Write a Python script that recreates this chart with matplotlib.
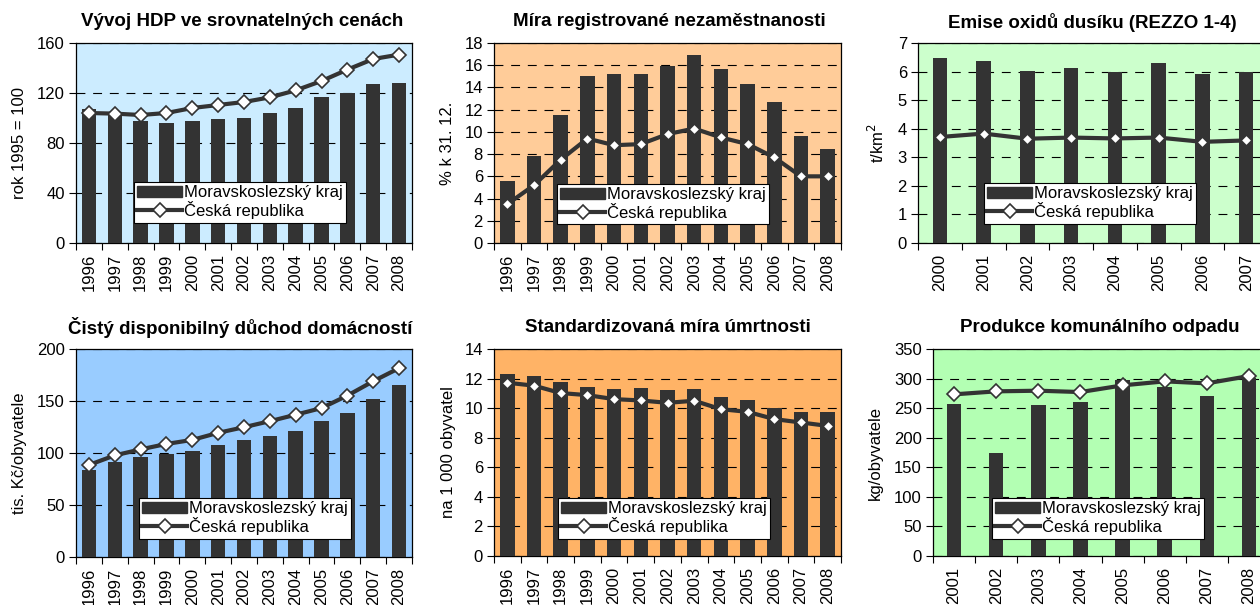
import matplotlib
matplotlib.use("Agg")
import matplotlib.pyplot as plt
from matplotlib.lines import Line2D
from matplotlib.patches import Patch
import numpy as np

W, H = 1260, 605
plt.rcParams["font.family"] = ["Liberation Sans", "DejaVu Sans"]

DARK = "#333333"

# ── data ─────────────────────────────────────────────────────────────────────
years_all   = [str(y) for y in range(1996, 2009)]
years_emise = [str(y) for y in range(2000, 2008)]
years_odpad = [str(y) for y in range(2001, 2009)]

hdp_msk = [107, 104, 98, 95.7, 97.3, 98.9, 99.7, 103.7, 107.7, 116.5, 120.3, 126.9, 127.7]
hdp_cr  = [104, 103.5, 102.4, 104, 108, 110.4, 112.8, 116.5, 122.1, 129.6, 138.7, 147.2, 150.7]

nezam_msk = [5.6, 7.8, 11.5, 15.0, 15.2, 15.2, 15.9, 16.9, 15.7, 14.3, 12.7, 9.6, 8.5]
nezam_cr  = [3.5, 5.2, 7.5, 9.4, 8.8, 8.9, 9.8, 10.3, 9.5, 8.9, 7.7, 6.0, 6.0]

emise_msk = [6.48, 6.36, 6.01, 6.11, 5.99, 6.30, 5.90, 5.99]
emise_cr  = [3.71, 3.83, 3.65, 3.69, 3.66, 3.69, 3.54, 3.59]

duchod_msk = [84, 91.6, 96.5, 99, 102.3, 108.1, 112.9, 116.8, 121.6, 130.3, 138.4, 151.6, 165.2]
duchod_cr  = [88.5, 97.7, 103.5, 108.7, 112.6, 119.4, 124.8, 130.6, 136.8, 143.2, 155.2, 169.0, 181.6]

umrt_msk = [12.3, 12.17, 11.76, 11.42, 11.29, 11.36, 11.22, 11.29, 10.75, 10.54, 10.0, 9.73, 9.73]
umrt_cr  = [11.72, 11.52, 11.02, 10.88, 10.61, 10.52, 10.36, 10.5, 9.93, 9.75, 9.26, 9.03, 8.8]

odpad_msk = [257, 174, 255, 260, 297.5, 285.7, 270.5, 300.4]
odpad_cr  = [273.3, 278.4, 279.5, 277.2, 288.5, 295.3, 291.9, 304.3]

LABELS = ["Moravskoslezský kraj", "Česká republika"]
BAR_PX = 14.5  # bars are ~14 px wide in every panel

fig = plt.figure(figsize=(W / 100, H / 100), dpi=100)
fig.patch.set_facecolor("white")


def panel(box, years, msk, cr, ymax, ystep, bg, title, title_xy,
          ylabel, ylabel_x, legend_xy, big_marker):
    left, right, top, bottom = box
    ax = fig.add_axes([left / W, 1 - bottom / H, (right - left) / W, (bottom - top) / H])
    ax.set_facecolor(bg)
    x = np.arange(len(years))
    cat_px = (right - left) / len(years)
    ax.bar(x, msk, width=BAR_PX / cat_px, color=DARK, zorder=3)
    if big_marker:
        ms, mec = 7, DARK
    else:
        ms, mec = 3.2, "white"
    ax.plot(x, cr, color=DARK, lw=3, marker="D", ms=ms, mfc="white",
            mec=mec, mew=1.2, zorder=4)

    ax.set_xlim(-0.5, len(years) - 0.5)
    ax.set_ylim(0, ymax)
    ax.set_yticks(np.arange(0, ymax + ystep / 2, ystep))
    ax.tick_params(axis="y", direction="out", length=5, width=0.8, labelsize=12, pad=3)

    ax.set_xticks(x)
    ax.set_xticklabels(years, rotation=90, fontsize=12)
    ax.set_xticks(np.arange(len(years) + 1) - 0.5, minor=True)
    ax.tick_params(axis="x", which="major", length=0, pad=8)
    ax.tick_params(axis="x", which="minor", direction="out", length=5, width=0.8)

    ax.grid(axis="y", color="black", lw=0.8, linestyle=(0, (8, 7)), zorder=0)
    ax.set_axisbelow(True)
    for s in ax.spines.values():
        s.set_color("black")
        s.set_linewidth(0.9)

    fig.text(title_xy[0] / W, 1 - title_xy[1] / H, title, ha="center", va="center",
             fontsize=13.5, fontweight="bold")
    fig.text(ylabel_x / W, 1 - (top + bottom) / 2 / H, ylabel, ha="center", va="center",
             rotation=90, fontsize=12)

    handles = [Patch(facecolor=DARK, edgecolor=DARK),
               Line2D([], [], color=DARK, lw=3, marker="D", ms=7, mfc="white",
                      mec=DARK, mew=1.2)]
    leg = ax.legend(handles, LABELS, loc="upper left",
                    bbox_to_anchor=(legend_xy[0] / W, 1 - legend_xy[1] / H),
                    bbox_transform=fig.transFigure, borderaxespad=0,
                    fancybox=False, framealpha=1, fontsize=12,
                    handlelength=2.7, handletextpad=0.1, borderpad=0.2,
                    labelspacing=0.05)
    leg.get_frame().set_edgecolor("black")
    leg.get_frame().set_linewidth(0.8)
    leg.set_zorder(6)
    return ax


panel((76, 412, 43, 243), years_all, hdp_msk, hdp_cr, 160, 40, "#CCECFF",
      "Vývoj HDP ve srovnatelných cenách", (242, 22),
      "rok 1995 = 100", 20, (134, 182), True)

panel((494, 841, 43, 243), years_all, nezam_msk, nezam_cr, 18, 2, "#FFCC99",
      "Míra registrované nezaměstnanosti", (669, 22),
      "% k 31. 12.", 447, (557, 184), False)

panel((918, 1268, 43, 243), years_emise, emise_msk, emise_cr, 7, 1, "#CCFFCC",
      "Emise oxidů dusíku (REZZO 1-4)", (1092, 22),
      "t/km$^2$", 877, (984, 183), False)

panel((76, 412, 349, 557), years_all, duchod_msk, duchod_cr, 200, 50, "#99CCFF",
      "Čistý disponibilný důchod domácností", (240, 328),
      "tis. Kč/obyvatele", 20, (139, 498), True)

panel((494, 841, 349, 556), years_all, umrt_msk, umrt_cr, 14, 2, "#FFB366",
      "Standardizovaná míra úmrtnosti", (668, 328),
      "na 1 000 obyvatel", 448, (558, 498), False)

panel((933, 1270, 349, 556), years_odpad, odpad_msk, odpad_cr, 350, 50, "#B3FFB3",
      "Produkce komunálního odpadu", (1100, 328),
      "kg/obyvatele", 875, (992, 498), True)

plt.savefig("out.png", dpi=100, facecolor="white")
plt.close()
print("Zapisano: out.png")
